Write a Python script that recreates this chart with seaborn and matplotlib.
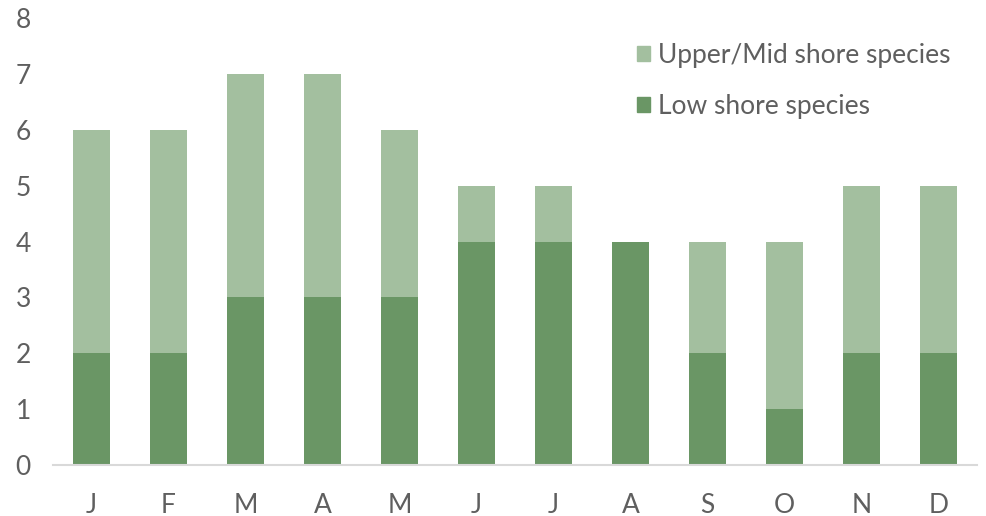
import pandas as pd
import matplotlib
matplotlib.use("Agg")
import matplotlib.pyplot as plt
import seaborn as sns
from matplotlib.patches import Patch

months = ["Jan", "Feb", "Mar", "Apr", "May", "Jun",
          "Jul", "Aug", "Sep", "Oct", "Nov", "Dec"]
tick_labels = ["J", "F", "M", "A", "M", "J", "J", "A", "S", "O", "N", "D"]
low_shore = [2, 2, 3, 3, 3, 4, 4, 4, 2, 1, 2, 2]
upper_mid_shore = [4, 4, 4, 4, 3, 1, 1, 0, 2, 3, 3, 3]

LOW_COLOR = "#6a9665"
UPPER_COLOR = "#a3bf9f"
TEXT_COLOR = "#5f5f5f"

df = pd.DataFrame({"month": months, "low": low_shore, "upper": upper_mid_shore})
df["total"] = df["low"] + df["upper"]

sns.set_theme(style="white")
plt.rcParams["font.family"] = ["Lato", "DejaVu Sans"]

fig = plt.figure(figsize=(9.87, 5.16), dpi=100)
ax = fig.add_axes([0.0537, 0.0988, 0.9362, 0.8662])

sns.barplot(data=df, x="month", y="total", color=UPPER_COLOR, width=0.49,
            saturation=1, linewidth=0, ax=ax)
sns.barplot(data=df, x="month", y="low", color=LOW_COLOR, width=0.49,
            saturation=1, linewidth=0, ax=ax)

ax.set_xlim(-0.5, 11.5)
ax.set_ylim(0, 8)
ax.set_yticks(range(0, 9))
ax.set_xticks(range(12))
ax.set_xticklabels(tick_labels)
ax.set_xlabel("")
ax.set_ylabel("")
ax.tick_params(axis="both", colors=TEXT_COLOR, labelsize=19, length=0)
ax.tick_params(axis="x", pad=20)
ax.tick_params(axis="y", pad=16)

for side in ["top", "right", "left"]:
    ax.spines[side].set_visible(False)
ax.spines["bottom"].set_color("#d9d9d9")
ax.spines["bottom"].set_linewidth(1.5)

handles = [Patch(color=UPPER_COLOR, label="Upper/Mid shore species"),
           Patch(color=LOW_COLOR, label="Low shore species")]
ax.legend(handles=handles, loc="upper right", bbox_to_anchor=(0.971, 0.944),
          frameon=False, fontsize=19, labelcolor=TEXT_COLOR,
          handlelength=0.5, handleheight=0.5, handletextpad=0.3,
          labelspacing=0.97, borderpad=0, borderaxespad=0)

fig.savefig("out.png", dpi=100)
